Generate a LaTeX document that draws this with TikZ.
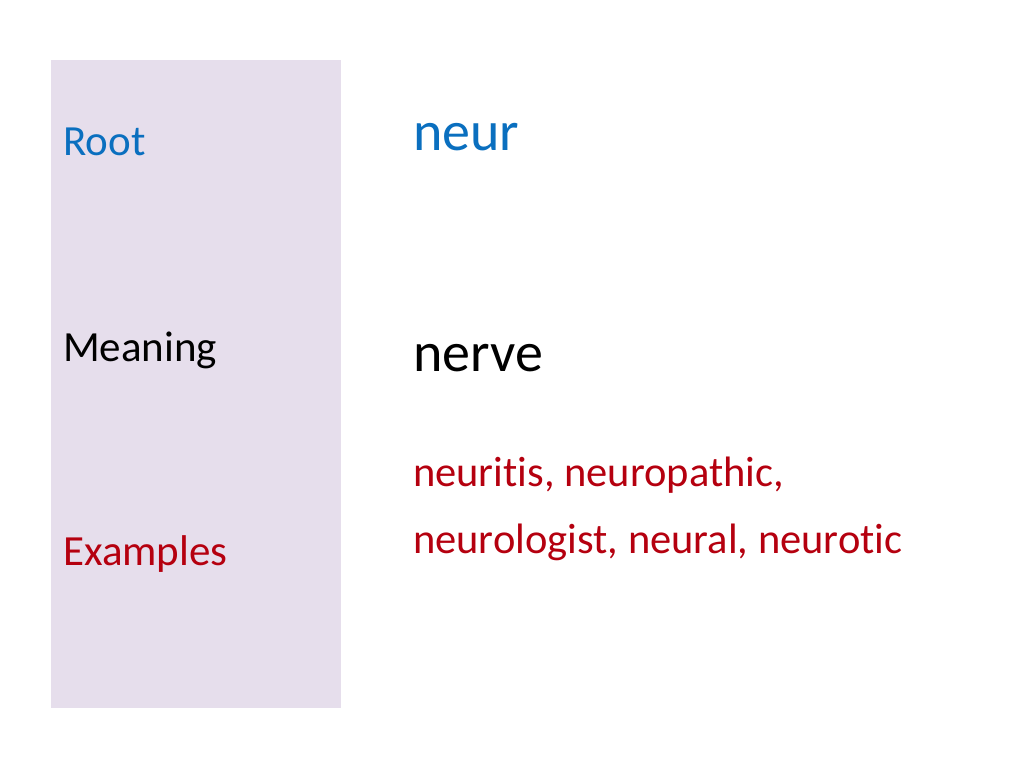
\documentclass[tikz,border=0pt]{standalone}
\usepackage{fontspec}
\setmainfont{Carlito}[Ligatures={NoCommon}]
\definecolor{lav}{HTML}{E6DEEC}
\definecolor{rootblue}{HTML}{0A6FBF}
\definecolor{exred}{HTML}{B5000F}
\begin{document}
\begin{tikzpicture}[x=1pt,y=-1pt,
  lbl/.style={anchor=base west,inner sep=0pt,font=\fontsize{43}{50}\selectfont},
  big/.style={anchor=base west,inner sep=0pt,font=\fontsize{56}{66}\selectfont},
  ex/.style={anchor=base west,inner sep=0pt,font=\fontsize{42.5}{50}\selectfont,text=exred}]
\useasboundingbox (0,0) rectangle (1024,768);
\fill[white] (0,0) rectangle (1024,768);
\fill[lav] (51,60) rectangle (341,708);
\node[lbl,text=rootblue] (root) at (63,155) {Root};
\node[lbl,text=black] (meaning) at (63,361) {Meaning};
\node[lbl,text=exred] (examples) at (63,565) {Examples};
\node[big,text=rootblue] (neur) at (413,150) {neur};
\node[big,text=black] (nerve) at (413,371) {nerve};
\node[ex] (ex1) at (413,486) {neuritis, neuropathic,};
\node[ex] (ex2) at (413,553) {neurologist, neural, neurotic};
\end{tikzpicture}
\end{document}
